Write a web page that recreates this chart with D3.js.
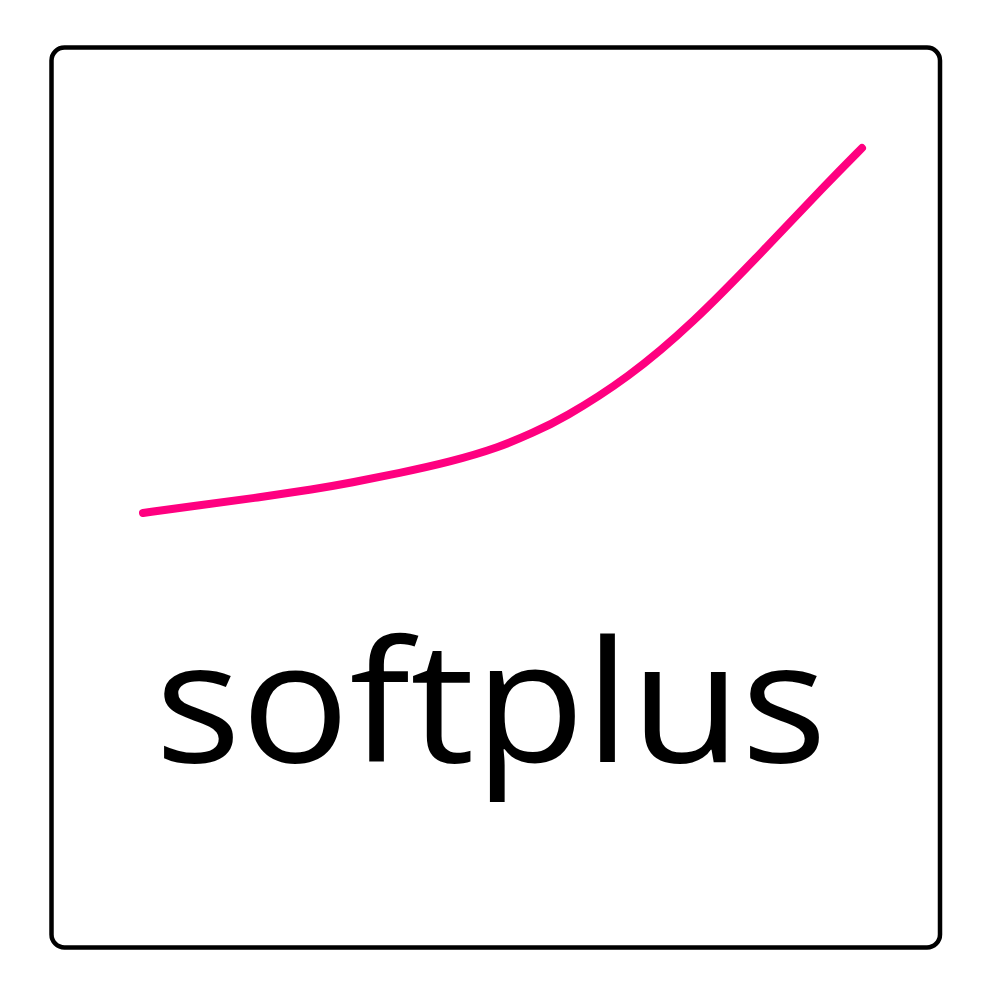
<!DOCTYPE html>
<html><head><meta charset="utf-8">
<script src="https://cdn.jsdelivr.net/npm/d3@7"></script>
<style>html,body{margin:0;padding:0;background:#fff;}</style>
</head><body>
<svg id="c" width="1000" height="1000"></svg>
<script>
const xValues = [-3.00, -2.57, -2.07, -1.56, -1.27, -0.86, -0.44, -0.02, 0.25, 0.50, 1.05, 1.59, 2.15, 2.71, 3.00];
const yValues = [0.000, 0.058, 0.123, 0.197, 0.247, 0.329, 0.419, 0.542, 0.658, 0.773, 1.110, 1.562, 2.129, 2.712, 3.000];
const title = "softplus";

const svg = d3.select("#c");
svg.append("rect").attr("x",0).attr("y",0).attr("width",1000).attr("height",1000).attr("fill","#fff");
svg.append("rect")
  .attr("x",51.5).attr("y",47.5).attr("width",888.5).attr("height",900)
  .attr("rx",13).attr("ry",13)
  .attr("fill","none").attr("stroke","#000").attr("stroke-width",4.5);

const x = d3.scaleLinear().domain([-3,3]).range([143,862]);
const y = d3.scaleLinear().domain([0,3]).range([513,148]);
const pts = xValues.map((v,i)=>[v,yValues[i]]);
const line = d3.line().x(d=>x(d[0])).y(d=>y(d[1])).curve(d3.curveBasis);
svg.append("path").attr("d",line(pts))
  .attr("fill","none").attr("stroke","#ff0080").attr("stroke-width",8)
  .attr("stroke-linecap","round").attr("stroke-linejoin","round");

svg.append("text").text(title)
  .attr("x",491).attr("y",762).attr("text-anchor","middle")
  .attr("font-family","'Open Sans', 'Noto Sans', sans-serif")
  .attr("font-size",168).attr("fill","#000")
  .attr("textLength",672).attr("lengthAdjust","spacingAndGlyphs");
</script>
</body></html>
